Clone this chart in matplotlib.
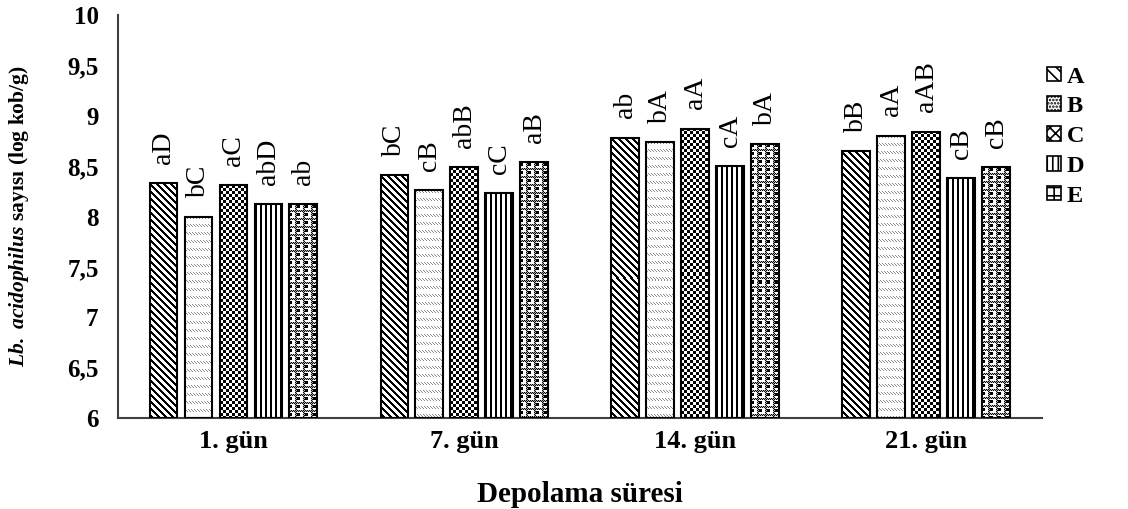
import numpy as np
import matplotlib
matplotlib.use('Agg')
import matplotlib.pyplot as plt
from matplotlib.patches import Rectangle

plt.rcParams['font.family'] = ['Liberation Serif', 'DejaVu Serif']
plt.rcParams['mathtext.fontset'] = 'custom'
plt.rcParams['mathtext.rm'] = 'Liberation Serif:bold'
plt.rcParams['mathtext.bf'] = 'Liberation Serif:bold'
plt.rcParams['mathtext.it'] = 'Liberation Serif:italic:bold'
plt.rcParams['mathtext.bfit'] = 'Liberation Serif:italic:bold'
plt.rcParams['hatch.linewidth'] = 1.2

groups = ['1. gün', '7. gün', '14. gün', '21. gün']
series = ['A', 'B', 'C', 'D', 'E']

vals_A = [8.33, 8.41, 8.78, 8.65]
vals_B = [8.00, 8.26, 8.74, 8.80]
vals_C = [8.31, 8.49, 8.87, 8.84]
vals_D = [8.12, 8.23, 8.50, 8.38]
vals_E = [8.12, 8.54, 8.72, 8.49]

let_A = ['aD', 'bC', 'ab', 'bB']
let_B = ['bC', 'cB', 'bA', 'aA']
let_C = ['aC', 'abB', 'aA', 'aAB']
let_D = ['abD', 'cC', 'cA', 'cB']
let_E = ['ab', 'aB', 'bA', 'cB']

all_vals = [vals_A, vals_B, vals_C, vals_D, vals_E]
all_lets = [let_A, let_B, let_C, let_D, let_E]
yticks = [6, 6.5, 7, 7.5, 8, 8.5, 9, 9.5, 10]


# pixel patterns for the bar fills (0 = black, 1 = white, in between = gray)
def pat_A(i, j):
    return np.where((i - j) % 7 < 3, 0.0, 1.0)


def pat_B(i, j):
    out = np.ones_like(i, dtype=float)
    stroke = ((i % 8) < 3) & (((i - j) % 3) == 0)
    out[stroke] = 0.55
    return out


def pat_C(i, j):
    return np.where(((i // 3) + (j // 3)) % 2 == 0, 0.0, 1.0)


def pat_D(i, j):
    return np.where(j % 5 < 2, 0.0, 1.0)


def pat_E(i, j):
    out = np.ones_like(i, dtype=float)
    ti, tj = i % 8, j % 8
    band = (ti >= 6) | (tj >= 6)
    fine = ((i + j) % 2 == 0)
    out[band & fine] = 0.0
    out[band & ~fine] = 0.7
    blk = (ti >= 1) & (ti <= 3) & (tj <= 2)
    out[blk] = 0.0
    return out


patterns = [pat_A, pat_B, pat_C, pat_D, pat_E]
leg_hatch = ['\\\\\\', '.....', 'xxx', '|||', '++']

fig = plt.figure(figsize=(11.28, 5.09), dpi=100)
ax = fig.add_axes([0.1046, 0.1788, 0.8191, 0.7917])

x = np.arange(len(groups))
width = 0.121
pitch = 0.1515
ax.set_xlim(-0.5, 3.5)
ax.set_ylim(6, 10)

bars_all = []
for k, vals in enumerate(all_vals):
    bars = ax.bar(x + (k - 2) * pitch, np.array(vals) - 6, width, bottom=6,
                  facecolor='none', edgecolor='black', linewidth=1.5, zorder=3)
    bars_all.append(bars)

# fill each bar with its pixel pattern
for k, bars in enumerate(bars_all):
    for rect in bars:
        bb = rect.get_window_extent()
        w = max(int(round(bb.width)), 1)
        h = max(int(round(bb.height)), 1)
        ii, jj = np.mgrid[0:h, 0:w]
        img = patterns[k](ii, jj)
        x0, y0 = rect.get_x(), rect.get_y()
        im = ax.imshow(img, cmap='gray', vmin=0, vmax=1, interpolation='nearest',
                       extent=(x0, x0 + rect.get_width(), y0, y0 + rect.get_height()),
                       origin='upper', aspect='auto', zorder=2)
        im.set_clip_path(rect)

# significance letters
for k, vals in enumerate(all_vals):
    for g in range(len(groups)):
        ax.annotate(all_lets[k][g], (x[g] + (k - 2) * pitch, vals[g]),
                    xytext=(0, 14), textcoords='offset points',
                    rotation=90, ha='center', va='bottom', fontsize=20)

ax.set_xlim(-0.5, 3.5)
ax.set_ylim(6, 10)
ax.set_xticks(x)
ax.set_xticklabels(groups, fontsize=19, fontweight='bold')
ax.set_yticks(yticks)
ax.set_yticklabels([('%g' % t).replace('.', ',') for t in yticks],
                   fontsize=18, fontweight='bold')
ax.tick_params(axis='x', length=0, pad=9)
ax.tick_params(axis='y', length=0, pad=14)

for s in ['top', 'right']:
    ax.spines[s].set_visible(False)
for s in ['left', 'bottom']:
    ax.spines[s].set_color('#404040')
    ax.spines[s].set_linewidth(1.5)

ax.set_xlabel('Depolama süresi', fontsize=21, fontweight='bold', labelpad=20)
ax.set_ylabel(r'$\mathbfit{Lb.\ acidophilus}$ sayısı (log kob/g)',
              fontsize=15.5, fontweight='bold')
ax.yaxis.set_label_coords(-0.094, 0.5)

handles = [Rectangle((0, 0), 1, 1, facecolor='white', edgecolor='black',
                     hatch=leg_hatch[k], linewidth=1.2) for k in range(5)]
leg = fig.legend(handles, series, loc='upper left', bbox_to_anchor=(0.909, 0.912),
                 frameon=False, handlelength=0.55, handleheight=0.55,
                 handletextpad=0.25, labelspacing=0.36,
                 prop={'size': 17.5, 'weight': 'bold'})

fig.savefig('out.png', dpi=100)
